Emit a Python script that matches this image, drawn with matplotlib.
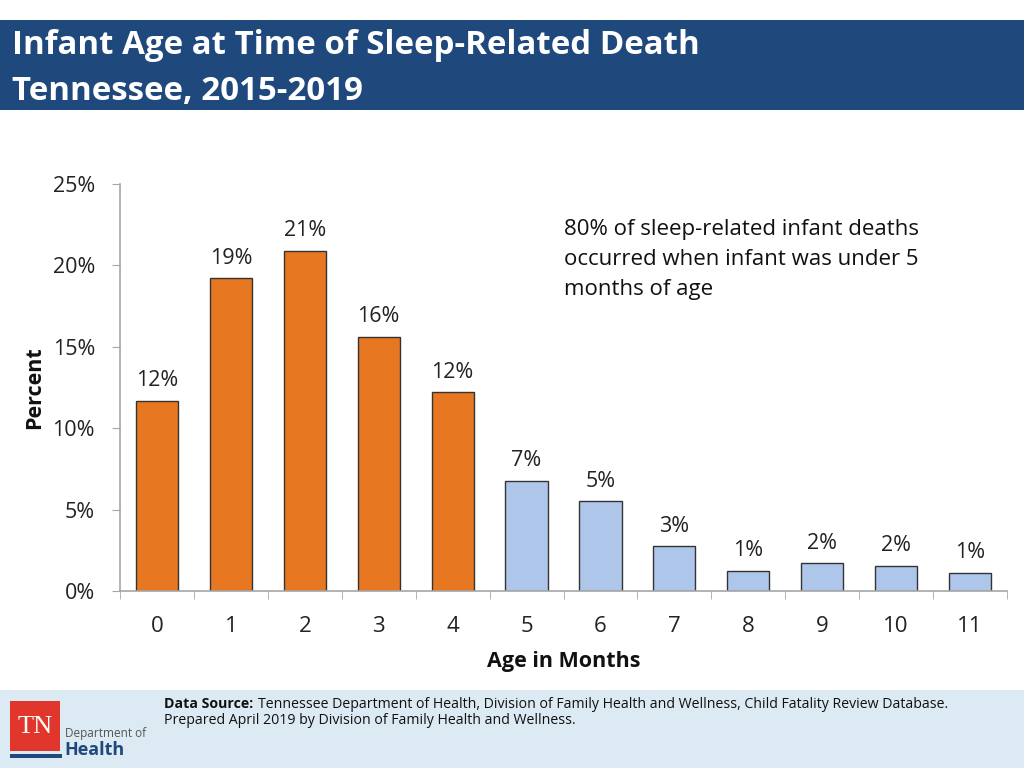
import matplotlib
matplotlib.use('Agg')
import matplotlib.pyplot as plt
from matplotlib.patches import Rectangle

# data
months = [0, 1, 2, 3, 4, 5, 6, 7, 8, 9, 10, 11]
pct = [11.7, 19.2, 20.9, 15.6, 12.2, 6.75, 5.5, 2.75, 1.25, 1.7, 1.55, 1.1]
bar_labels = ['12%', '19%', '21%', '16%', '12%', '7%', '5%', '3%', '1%', '2%', '2%', '1%']
yticks = [0, 5, 10, 15, 20, 25]

ORANGE = '#E87722'
LIGHTBLUE = '#AEC6EA'
NAVY = '#1F497D'
FOOT = '#DCEAF3'

plt.rcParams['font.family'] = ['Open Sans', 'DejaVu Sans']

fig = plt.figure(figsize=(10.24, 7.68), dpi=100)

# header band
fig.patches.append(Rectangle((0, 1 - 110/768), 1, 90/768, transform=fig.transFigure,
                             facecolor=NAVY, edgecolor='none', zorder=0))
fig.text(12/1024, 1 - 45/768, 'Infant Age at Time of Sleep-Related Death', color='white',
         fontsize=23.8, fontweight='bold', va='center', ha='left')
fig.text(12/1024, 1 - 91/768, 'Tennessee, 2015-2019', color='white',
         fontsize=23.8, fontweight='bold', va='center', ha='left')

# footer band
fig.patches.append(Rectangle((0, 0), 1, 78/768, transform=fig.transFigure,
                             facecolor=FOOT, edgecolor='none', zorder=0))
fig.text(164/1024, 1 - 704/768, 'Data Source:', fontsize=10.2, fontweight='bold',
         va='center', ha='left', color='#111111')
fig.text(258/1024, 1 - 704/768,
         'Tennessee Department of Health, Division of Family Health and Wellness, Child Fatality Review Database.',
         fontsize=10.2, va='center', ha='left', color='#111111')
fig.text(164/1024, 1 - 721/768, 'Prepared April 2019 by Division of Family Health and Wellness.',
         fontsize=10.2, va='center', ha='left', color='#111111')

# TN logo
fig.patches.append(Rectangle((10/1024, 1 - 751/768), 50/1024, 50/768, transform=fig.transFigure,
                             facecolor='#E0362C', edgecolor='none', zorder=1))
fig.patches.append(Rectangle((10/1024, 1 - 758/768), 52/1024, 4/768, transform=fig.transFigure,
                             facecolor=NAVY, edgecolor='none', zorder=1))
fig.text(35/1024, 1 - 727/768, 'TN', color='white', fontsize=19, family=['Liberation Serif', 'DejaVu Serif'],
         ha='center', va='center', zorder=2)
fig.text(65/1024, 1 - 734/768, 'Department of', color='#555555', fontsize=8.5,
         ha='left', va='center')
fig.text(64/1024, 1 - 750/768, 'Health', color=NAVY, fontsize=13, fontweight='bold',
         ha='left', va='center')

# chart
ax = fig.add_axes([120/1024, 1 - 591/768, 887/1024, 407/768])
colors = [ORANGE if m < 5 else LIGHTBLUE for m in months]
bars = ax.bar(months, pct, width=0.57, color=colors, edgecolor='#333333', linewidth=1)
for b, lab in zip(bars, bar_labels):
    ax.annotate(lab, (b.get_x() + b.get_width() / 2, b.get_height()),
                xytext=(0, 7), textcoords='offset points', ha='center', va='bottom',
                fontsize=15.5, color='#222222')

ax.set_xlim(-0.5, 11.5)
ax.set_ylim(0, 25)
ax.set_yticks(yticks)
ax.set_yticklabels([f'{t}%' for t in yticks])
ax.set_xticks(months)
ax.set_xticks([m + 0.5 for m in [-1] + months], minor=True)
ax.tick_params(axis='x', which='major', length=0, pad=18, labelsize=16, labelcolor='#222222')
ax.tick_params(axis='x', which='minor', length=6, color='#A6A6A6', direction='out')
ax.tick_params(axis='y', length=6, color='#A6A6A6', pad=12, labelsize=15.5, labelcolor='#222222')
for s in ['top', 'right']:
    ax.spines[s].set_visible(False)
for s in ['left', 'bottom']:
    ax.spines[s].set_color('#A6A6A6')
    ax.spines[s].set_linewidth(1.2)

ax.set_xlabel('Age in Months', fontsize=15.5, fontweight='bold', labelpad=10, color='#111111')
ax.set_ylabel('Percent', fontsize=15.5, fontweight='bold', labelpad=5, color='#111111')

ax.text(0.50, 0.815,
        '80% of sleep-related infant deaths\noccurred when infant was under 5\nmonths of age',
        transform=ax.transAxes, fontsize=16, va='center', ha='left', linespacing=1.58,
        color='#111111')

fig.savefig('out.png', dpi=100)
